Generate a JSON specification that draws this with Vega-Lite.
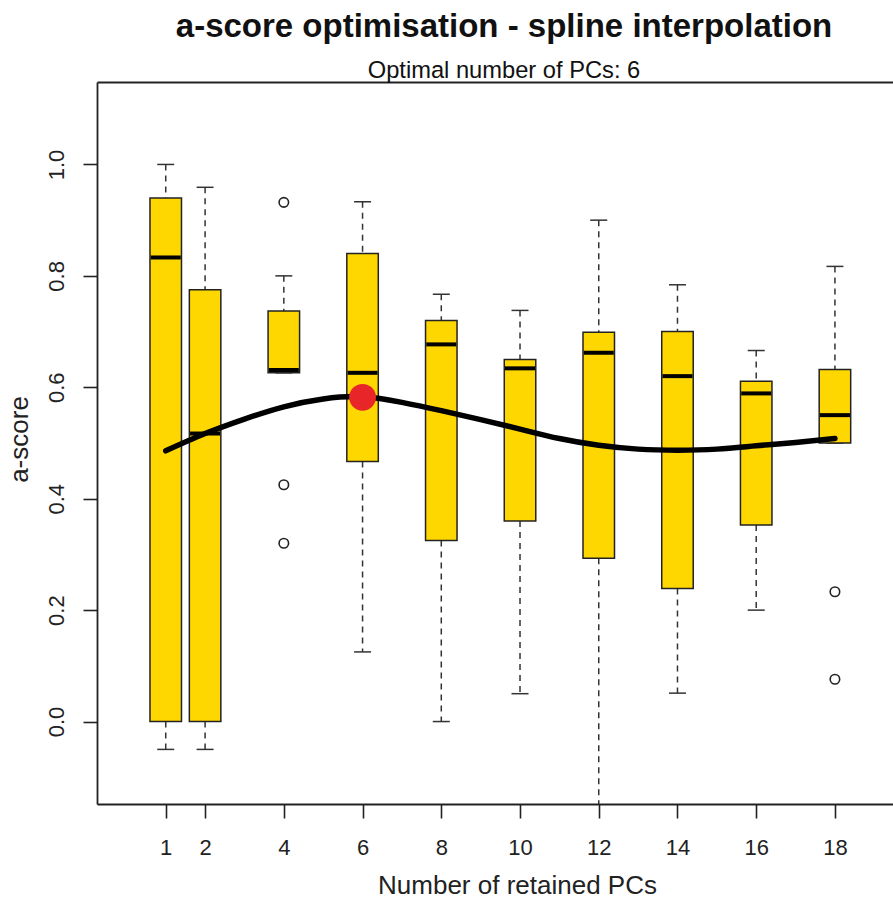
{
  "$schema": "https://vega.github.io/schema/vega-lite/v6.json",
  "autosize": "none",
  "width": 796,
  "height": 722,
  "padding": {"left": 97, "top": 82, "right": 0, "bottom": 99},
  "background": "white",
  "config": {
    "view": {"stroke": null},
    "font": "Liberation Sans",
    "axis": {"grid": false, "domainColor": "#222", "domainWidth": 1.8, "tickColor": "#222", "tickWidth": 1.6, "labelColor": "#222", "titleColor": "#222", "labelFont": "Liberation Sans", "titleFont": "Liberation Sans", "titleFontWeight": "normal"}
  },
  "title": {
    "text": "a-score optimisation - spline interpolation",
    "subtitle": "Optimal number of PCs: 6",
    "anchor": "middle",
    "fontSize": 33,
    "fontWeight": "bold",
    "font": "Liberation Sans",
    "color": "#111",
    "subtitleFont": "Liberation Sans",
    "subtitleFontSize": 23.7,
    "subtitleColor": "#111",
    "subtitlePadding": 15,
    "offset": -1,
    "dx": 9
  },
  "datasets": {
    "boxes": [
      {"pcs": 1, "lower": -0.05, "q1": 0.0, "median": 0.833, "q3": 0.94, "upper": 1.0},
      {"pcs": 2, "lower": -0.05, "q1": 0.0, "median": 0.517, "q3": 0.775, "upper": 0.959},
      {"pcs": 4, "lower": 0.626, "q1": 0.626, "median": 0.631, "q3": 0.737, "upper": 0.8},
      {"pcs": 6, "lower": 0.125, "q1": 0.467, "median": 0.626, "q3": 0.84, "upper": 0.933},
      {"pcs": 8, "lower": 0.0, "q1": 0.325, "median": 0.677, "q3": 0.72, "upper": 0.767},
      {"pcs": 10, "lower": 0.05, "q1": 0.36, "median": 0.634, "q3": 0.65, "upper": 0.738},
      {"pcs": 12, "lower": -0.2, "q1": 0.293, "median": 0.662, "q3": 0.699, "upper": 0.9},
      {"pcs": 14, "lower": 0.051, "q1": 0.239, "median": 0.62, "q3": 0.7, "upper": 0.784},
      {"pcs": 16, "lower": 0.2, "q1": 0.353, "median": 0.589, "q3": 0.611, "upper": 0.666},
      {"pcs": 18, "lower": 0.5, "q1": 0.5, "median": 0.55, "q3": 0.632, "upper": 0.817}
    ],
    "outliers": [
      {"pcs": 4, "score": 0.932},
      {"pcs": 4, "score": 0.425},
      {"pcs": 4, "score": 0.32},
      {"pcs": 18, "score": 0.233},
      {"pcs": 18, "score": 0.076}
    ],
    "spline": [
      {"pcs": 1, "score": 0.486},
      {"pcs": 2, "score": 0.517},
      {"pcs": 3, "score": 0.543},
      {"pcs": 4, "score": 0.565},
      {"pcs": 5, "score": 0.579},
      {"pcs": 6, "score": 0.583},
      {"pcs": 7, "score": 0.573},
      {"pcs": 8, "score": 0.558},
      {"pcs": 9, "score": 0.542},
      {"pcs": 10, "score": 0.525},
      {"pcs": 11, "score": 0.508},
      {"pcs": 12, "score": 0.496},
      {"pcs": 13, "score": 0.489},
      {"pcs": 14, "score": 0.487},
      {"pcs": 15, "score": 0.489},
      {"pcs": 16, "score": 0.495},
      {"pcs": 17, "score": 0.501},
      {"pcs": 18, "score": 0.508}
    ],
    "optimum": [
      {"pcs": 6, "score": 0.582}
    ]
  },
  "resolve": {"axis": {"x": "independent"}},
  "layer": [
    {
      "data": {"name": "boxes"},
      "mark": {"type": "rule", "stroke": "#333", "strokeWidth": 1.5, "strokeDash": [6, 5], "clip": true},
      "encoding": {
        "x": {"field": "pcs", "type": "quantitative", "scale": {"domain": [-0.746, 19.475], "nice": false, "zero": false, "padding": 0},
          "axis": {"orient": "bottom", "values": [1, 2, 4, 6, 8, 10, 12, 14, 16, 18], "tickSize": 14, "labelFontSize": 22, "labelPadding": 29, "labelBaseline": "middle", "labelFlush": false, "labelOverlap": false,
            "title": "Number of retained PCs", "titleFontSize": 26, "titleX": 420, "titleY": 81, "titleBaseline": "middle", "titleAlign": "center"}},
        "y": {"field": "upper", "type": "quantitative", "scale": {"domain": [-0.148, 1.148], "nice": false, "zero": false, "padding": 0},
          "axis": {"orient": "left", "values": [0, 0.2, 0.4, 0.6, 0.8, 1.0], "format": ".1f", "tickSize": 14, "labelFontSize": 22, "labelAngle": 270, "labelAlign": "center", "labelBaseline": "middle", "labelPadding": 27, "labelFlush": false,
            "title": "a-score", "titleFontSize": 26, "titleAngle": 270, "titleX": -78, "titleY": 357, "titleBaseline": "middle", "titleAlign": "center"}},
        "y2": {"field": "q3"}
      }
    },
    {
      "data": {"name": "boxes"},
      "mark": {"type": "rule", "stroke": "#333", "strokeWidth": 1.5, "strokeDash": [6, 5], "clip": true},
      "encoding": {
        "x": {"field": "pcs", "type": "quantitative", "axis": null},
        "y": {"field": "q1", "type": "quantitative"},
        "y2": {"field": "lower"}
      }
    },
    {
      "data": {"name": "boxes"},
      "mark": {"type": "tick", "orient": "horizontal", "color": "#333", "opacity": 1, "size": 17, "thickness": 1.5, "clip": true},
      "encoding": {
        "x": {"field": "pcs", "type": "quantitative", "axis": null},
        "y": {"field": "upper", "type": "quantitative"}
      }
    },
    {
      "data": {"name": "boxes"},
      "mark": {"type": "tick", "orient": "horizontal", "color": "#333", "opacity": 1, "size": 17, "thickness": 1.5, "clip": true},
      "encoding": {
        "x": {"field": "pcs", "type": "quantitative", "axis": null},
        "y": {"field": "lower", "type": "quantitative"}
      }
    },
    {
      "data": {"name": "boxes"},
      "mark": {"type": "bar", "orient": "vertical", "size": 31.5, "fill": "#FFD700", "stroke": "#222", "strokeWidth": 1.5, "opacity": 1},
      "encoding": {
        "x": {"field": "pcs", "type": "quantitative", "axis": null},
        "y": {"field": "q1", "type": "quantitative"},
        "y2": {"field": "q3"}
      }
    },
    {
      "data": {"name": "boxes"},
      "mark": {"type": "tick", "orient": "horizontal", "color": "#000", "opacity": 1, "size": 30, "thickness": 4},
      "encoding": {
        "x": {"field": "pcs", "type": "quantitative", "axis": null},
        "y": {"field": "median", "type": "quantitative"}
      }
    },
    {
      "data": {"name": "outliers"},
      "mark": {"type": "point", "shape": "circle", "filled": false, "stroke": "#222", "strokeWidth": 1.6, "size": 90, "opacity": 1},
      "encoding": {
        "x": {"field": "pcs", "type": "quantitative", "axis": null},
        "y": {"field": "score", "type": "quantitative"}
      }
    },
    {
      "data": {"name": "spline"},
      "mark": {"type": "line", "interpolate": "natural", "stroke": "#000", "strokeWidth": 5.5, "strokeCap": "round"},
      "encoding": {
        "x": {"field": "pcs", "type": "quantitative", "axis": null},
        "y": {"field": "score", "type": "quantitative"}
      }
    },
    {
      "data": {"name": "optimum"},
      "mark": {"type": "point", "shape": "circle", "filled": true, "fill": "#E8262A", "stroke": null, "size": 720, "opacity": 1},
      "encoding": {
        "x": {"field": "pcs", "type": "quantitative",
          "axis": {"orient": "top", "labels": false, "ticks": false, "title": null, "domain": true}},
        "y": {"field": "score", "type": "quantitative"}
      }
    }
  ]
}
